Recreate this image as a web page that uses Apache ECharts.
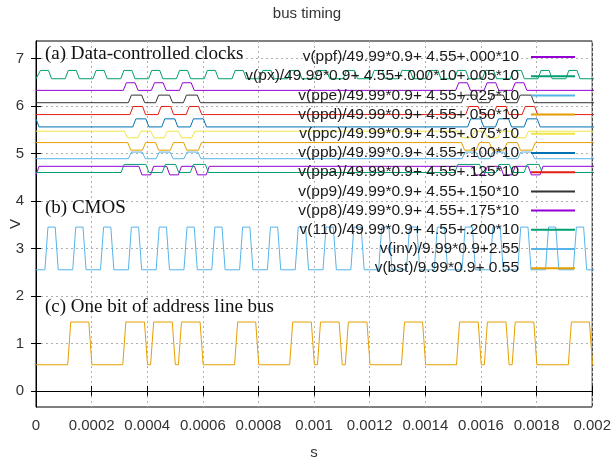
<!DOCTYPE html>
<html>
<head>
<meta charset="utf-8">
<script src="https://cdn.jsdelivr.net/npm/echarts@6/dist/echarts.min.js"></script>
<style>
html, body { margin: 0; padding: 0; background: #fff; }
#main { width: 614px; height: 466px; }
</style>
</head>
<body>
<div id="main"></div>
<script>
// axes
var xMin = 0, xMax = 0.002, xStep = 0.0002;
var yMin = -0.34, yMax = 7.37;
var yTicks = [0, 1, 2, 3, 4, 5, 6, 7];

// legend order (gnuplot key)
var names = [
    'v(ppf)/49.99*0.9+ 4.55+.000*10',
    'v(px)/49.99*0.9+ 4.55+.000*10+.005*10',
    'v(ppe)/49.99*0.9+ 4.55+.025*10',
    'v(ppd)/49.99*0.9+ 4.55+.050*10',
    'v(ppc)/49.99*0.9+ 4.55+.075*10',
    'v(ppb)/49.99*0.9+ 4.55+.100*10',
    'v(ppa)/49.99*0.9+ 4.55+.125*10',
    'v(pp9)/49.99*0.9+ 4.55+.150*10',
    'v(pp8)/49.99*0.9+ 4.55+.175*10',
    'v(110)/49.99*0.9+ 4.55+.200*10',
    'v(inv)/9.99*0.9+2.55',
    'v(bst)/9.99*0.9+ 0.55'
];
var colors = ['#9400d3', '#009e73', '#56b4e9', '#e69f00', '#f0e442', '#0072b2',
              '#e51e10', '#333333', '#9400d3', '#009e73', '#56b4e9', '#e69f00'];

// each signal: [resting level, pulse level], edge times (start of ramp)
var ppfLevels = [6.33, 6.49];
var ppfOn  = [0.000314, 0.000415, 0.000516, 0.001509, 0.001611, 0.001712];
var ppfOff = [0.000356, 0.000457, 0.000558, 0.001551, 0.001653, 0.001754];

var pxLevels = [6.575, 6.75];
var pxOn  = [0.000005, 0.000105, 0.000205, 0.000305, 0.000405, 0.000505, 0.000605, 0.000705, 0.000805, 0.000905,
             0.001005, 0.001105, 0.001205, 0.001305, 0.001405, 0.001505, 0.001605, 0.001705, 0.001805, 0.001905];
var pxOff = [0.000045, 0.000145, 0.000245, 0.000345, 0.000445, 0.000545, 0.000645, 0.000745, 0.000845, 0.000945,
             0.001045, 0.001145, 0.001245, 0.001345, 0.001445, 0.001545, 0.001645, 0.001745, 0.001845, 0.001945];

var ppeLevels = [4.89, 5.03];
var ppeOn  = [0.000332, 0.000432, 0.000532, 0.001532, 0.001632, 0.001732];
var ppeOff = [0.000382, 0.000482, 0.000582, 0.001582, 0.001682, 0.001782];

var ppdLevels = [5.23, 5.07];
var ppdOn  = [0.00033, 0.00043, 0.000531, 0.00153, 0.00163, 0.001731];
var ppdOff = [0.000383, 0.000483, 0.000584, 0.001583, 0.001683, 0.001784];

var ppcLevels = [5.47, 5.33];
var ppcOn  = [0.000318, 0.000413, 0.000512, 0.001518, 0.001613, 0.001712];
var ppcOff = [0.000366, 0.000461, 0.00056, 0.001566, 0.001661, 0.00176];

var ppbLevels = [5.56, 5.73];
var ppbStart = 5.73;
var ppbOn  = [0.000348, 0.000452, 0.000555, 0.001552, 0.001652, 0.001755];
var ppbOff = [0.000395, 0.000499, 0.000602, 0.001599, 0.001699, 0.001802];

var ppaLevels = [5.82, 5.99];
var ppaOn  = [0.000338, 0.000439, 0.00054, 0.001545, 0.001645, 0.001748];
var ppaOff = [0.000383, 0.000484, 0.000585, 0.00159, 0.00169, 0.001793];

var pp9Levels = [6.07, 6.23];
var pp9On  = [0.000332, 0.00043, 0.00053, 0.00153, 0.00163, 0.00173];
var pp9Off = [0.00038, 0.00048, 0.00058, 0.00158, 0.00168, 0.00178];

var pp8Levels = [4.73, 4.55];
var pp8Start = 4.55;
var pp8On  = [0.00037, 0.00047, 0.00057, 0.00157, 0.00167, 0.00177];
var pp8Off = [0.000412, 0.000512, 0.000612, 0.001612, 0.001712, 0.001812];

var n110Levels = [4.6, 4.77];
var n110On  = [0.000306, 0.000454, 0.000555, 0.001506, 0.001654, 0.001755];
var n110Off = [0.000395, 0.000502, 0.000609, 0.001595, 0.001702, 0.001809];

var invLevels = [2.55, 3.45];
var invOn  = [0.000032, 0.000132, 0.000232, 0.000332, 0.000432, 0.000532, 0.000632, 0.000732, 0.000832, 0.000932,
              0.001032, 0.001132, 0.001232, 0.001332, 0.001432, 0.001532, 0.001632, 0.001732, 0.001832, 0.001932];
var invOff = [0.000069, 0.000169, 0.000269, 0.000369, 0.000469, 0.000569, 0.000669, 0.000769, 0.000869, 0.000969,
              0.001069, 0.001169, 0.001269, 0.001369, 0.001469, 0.001569, 0.001669, 0.001769, 0.001869, 0.001969];

var bstLevels = [0.55, 1.45];
var bstOn  = [0.000114, 0.000312, 0.000412, 0.000512, 0.000714, 0.000912, 0.001012, 0.001112, 0.001314,
              0.001512, 0.001612, 0.001712, 0.001914];
var bstOff = [0.00019, 0.00039, 0.00049, 0.00059, 0.00079, 0.00099, 0.00109, 0.00119, 0.00139,
              0.00159, 0.00169, 0.00179, 0.00199];

var ramp = 0.000011;

// turn edge lists into a trapezoid waveform
function wave(levels, on, off, start)
{
    var base = levels[0], level = levels[1];
    var pts = [];
    if (start !== undefined) {
        pts.push([xMin, start], [xMin + ramp, base]);
    } else {
        pts.push([xMin, base]);
    }
    for (var i = 0; i < on.length; i++) {
        pts.push([on[i], base], [on[i] + ramp, level], [off[i], level], [off[i] + ramp, base]);
    }
    pts.push([xMax + ramp, base]);
    return pts;
}

var waves = [
    wave(ppfLevels, ppfOn, ppfOff),
    wave(pxLevels, pxOn, pxOff),
    wave(ppeLevels, ppeOn, ppeOff),
    wave(ppdLevels, ppdOn, ppdOff),
    wave(ppcLevels, ppcOn, ppcOff),
    wave(ppbLevels, ppbOn, ppbOff, ppbStart),
    wave(ppaLevels, ppaOn, ppaOff),
    wave(pp9Levels, pp9On, pp9Off),
    wave(pp8Levels, pp8On, pp8Off, pp8Start),
    wave(n110Levels, n110On, n110Off),
    wave(invLevels, invOn, invOff),
    wave(bstLevels, bstOn, bstOff)
];

var series = [];
for (var i = 0; i < names.length; i++) {
    series.push({
        name: names[i],
        type: 'line',
        data: waves[i],
        symbol: 'none',
        showSymbol: false,
        silent: true,
        clip: true,
        lineStyle: { width: 1, color: colors[i] },
        itemStyle: { color: colors[i] }
    });
}

var sans = '"Liberation Sans", Arial, sans-serif';
var serif = '"Liberation Serif", "Times New Roman", serif';
var grid = { color: '#b0b0b0', type: [2, 3], width: 1 };

var chart = echarts.init(document.getElementById('main'));
var option = {
    animation: false,
    backgroundColor: '#fff',
    title: {
        text: 'bus timing',
        left: 'center',
        top: 1,
        textStyle: { fontSize: 15, fontWeight: 'normal', color: '#333', fontFamily: sans }
    },
    grid: { left: 34, right: 18, top: 41, bottom: 59, show: true, borderColor: '#000', borderWidth: 1 },
    legend: {
        orient: 'vertical',
        align: 'right',
        right: 38,
        top: 49,
        padding: 0,
        itemWidth: 44,
        itemHeight: 14,
        itemGap: 3.2,
        selectedMode: false,
        data: names,
        itemStyle: { opacity: 0 },
        textStyle: { fontSize: 15.5, color: '#1a1a1a', fontFamily: sans, padding: [0, 7, 0, 0] }
    },
    xAxis: [{
        type: 'value', min: xMin, max: xMax, interval: xStep,
        name: 's', nameLocation: 'middle', nameGap: 38, nameMoveOverlap: false,
        nameTextStyle: { fontSize: 15, color: '#333', fontFamily: sans },
        axisLine: { show: true, lineStyle: { color: '#000' } },
        axisTick: { inside: true, length: 5, lineStyle: { color: '#000' } },
        axisLabel: { margin: 11, fontSize: 15, color: '#333', fontFamily: sans },
        splitLine: { show: true, lineStyle: grid }
    }, {
        type: 'value', position: 'top', min: xMin, max: xMax, interval: xStep,
        axisLine: { show: true, lineStyle: { color: '#000' } },
        axisTick: { inside: true, length: 5, lineStyle: { color: '#000' } },
        axisLabel: { show: false },
        splitLine: { show: false }
    }],
    yAxis: [{
        type: 'value', min: yMin, max: yMax,
        name: 'V', nameLocation: 'middle', nameGap: 13, nameMoveOverlap: false,
        nameTextStyle: { fontSize: 15, color: '#333', fontFamily: sans },
        axisLine: { show: true, lineStyle: { color: '#000' } },
        axisTick: { inside: true, length: 5, customValues: yTicks, lineStyle: { color: '#000' } },
        axisLabel: { customValues: yTicks, margin: 12, fontSize: 15, color: '#333', fontFamily: sans },
        splitLine: { show: true, customValues: yTicks, lineStyle: grid }
    }, {
        type: 'value', position: 'right', min: yMin, max: yMax,
        axisLine: { show: true, lineStyle: { color: '#000' } },
        axisTick: { inside: true, length: 5, customValues: yTicks, lineStyle: { color: '#000' } },
        axisLabel: { show: false, customValues: yTicks },
        splitLine: { show: false }
    }],
    graphic: [
        { type: 'text', left: 45, top: 45, z: 100, style: { text: '(a) Data-controlled clocks', font: '19px ' + serif, fill: '#111' } },
        { type: 'text', left: 45, top: 199, z: 100, style: { text: '(b) CMOS', font: '19px ' + serif, fill: '#111' } },
        { type: 'text', left: 45, top: 298, z: 100, style: { text: '(c) One bit of address line bus', font: '19px ' + serif, fill: '#111' } }
    ],
    series: series
};
chart.setOption(option);
</script>
</body>
</html>
